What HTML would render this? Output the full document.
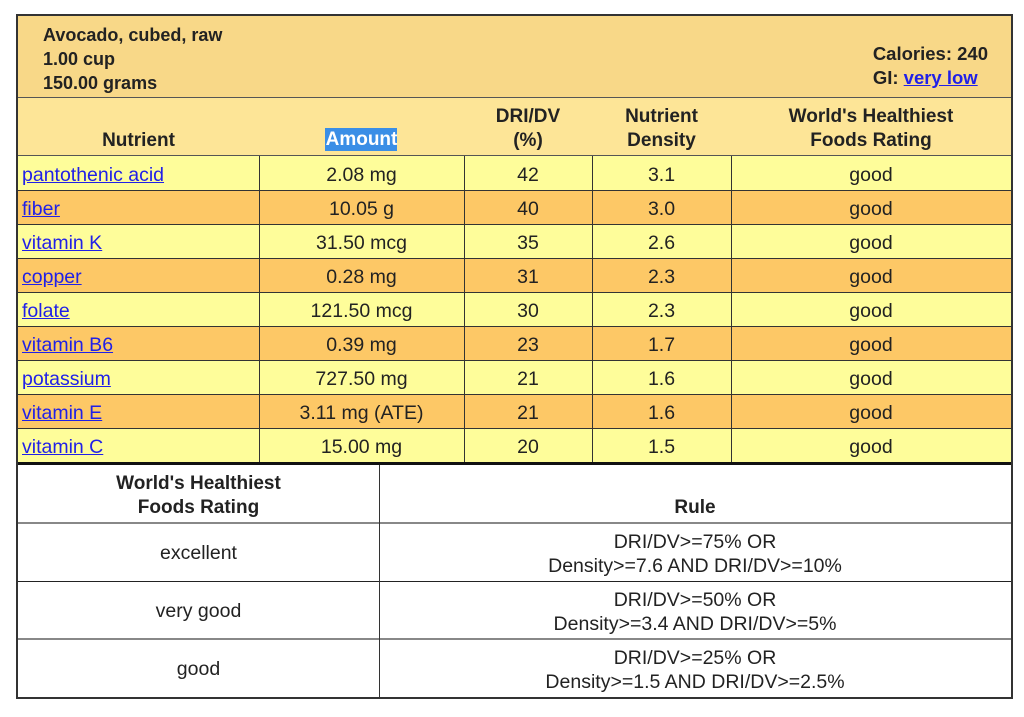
<!DOCTYPE html>
<html>
<head>
<meta charset="utf-8">
<style>
html,body{margin:0;padding:0;background:#fff;}
body{width:1024px;height:717px;position:relative;overflow:hidden;font-family:"Liberation Sans",Arial,sans-serif;color:#222;font-size:19.5px;}
.a{position:absolute;}
.box{left:16px;top:14px;width:997px;height:685px;border:2px solid #333;box-sizing:border-box;}
.hl{position:absolute;height:1px;background:#333;}
.vl{position:absolute;width:1px;background:#333;}
.t{position:absolute;line-height:24px;white-space:nowrap;}
.c{text-align:center;}
.b{font-weight:bold;font-size:19px;}
a{color:#2020e8;text-decoration:underline;}
</style>
</head>
<body>
<!-- backgrounds -->
<div class="a" style="left:18px;top:16px;width:993px;height:82px;background:#f8d888;"></div>
<div class="a" style="left:18px;top:98px;width:993px;height:58px;background:#fde597;"></div>
<div class="a" style="left:18px;top:156px;width:993px;height:34px;background:#fefd9a;"></div>
<div class="a" style="left:18px;top:190px;width:993px;height:34px;background:#fdc866;"></div>
<div class="a" style="left:18px;top:224px;width:993px;height:34px;background:#fefd9a;"></div>
<div class="a" style="left:18px;top:258px;width:993px;height:34px;background:#fdc866;"></div>
<div class="a" style="left:18px;top:292px;width:993px;height:34px;background:#fefd9a;"></div>
<div class="a" style="left:18px;top:326px;width:993px;height:34px;background:#fdc866;"></div>
<div class="a" style="left:18px;top:360px;width:993px;height:34px;background:#fefd9a;"></div>
<div class="a" style="left:18px;top:394px;width:993px;height:34px;background:#fdc866;"></div>
<div class="a" style="left:18px;top:428px;width:993px;height:34px;background:#fefd9a;"></div>

<div class="a box"></div>

<!-- horizontal lines top table -->
<div class="hl" style="left:18px;top:97px;width:993px;background:#555;"></div>
<div class="hl" style="left:18px;top:155px;width:993px;background:#555;"></div>
<div class="hl" style="left:18px;top:190px;width:993px;"></div>
<div class="hl" style="left:18px;top:224px;width:993px;"></div>
<div class="hl" style="left:18px;top:258px;width:993px;"></div>
<div class="hl" style="left:18px;top:292px;width:993px;"></div>
<div class="hl" style="left:18px;top:326px;width:993px;"></div>
<div class="hl" style="left:18px;top:360px;width:993px;"></div>
<div class="hl" style="left:18px;top:394px;width:993px;"></div>
<div class="hl" style="left:18px;top:428px;width:993px;"></div>
<div class="hl" style="left:18px;top:462px;width:993px;height:3px;background:#111;"></div>
<!-- vertical lines top table -->
<div class="vl" style="left:259px;top:156px;height:306px;"></div>
<div class="vl" style="left:464px;top:156px;height:306px;"></div>
<div class="vl" style="left:592px;top:156px;height:306px;"></div>
<div class="vl" style="left:731px;top:156px;height:306px;"></div>

<!-- second table lines -->
<div class="hl" style="left:18px;top:522px;width:993px;height:2px;background:#888;"></div>
<div class="hl" style="left:18px;top:581px;width:993px;background:#222;"></div>
<div class="hl" style="left:18px;top:638px;width:993px;height:2px;background:#888;"></div>
<div class="vl" style="left:379px;top:465px;height:232px;"></div>

<!-- header band -->
<div class="t b" style="left:43px;top:23px;font-size:18px;">Avocado, cubed, raw<br>1.00 cup<br>150.00 grams</div>
<div class="t b" style="right:36px;top:42px;font-size:18.5px;text-align:left;">Calories: 240<br>GI: <a href="#">very low</a></div>

<!-- column header -->
<div class="t b c" style="left:18px;width:241px;top:129px;">Nutrient</div>
<div class="a" style="left:325px;top:128px;width:72px;height:23px;background:#3a8ee6;"></div>
<div class="t b c" style="left:259px;width:205px;top:128px;color:#fff;">Amount</div>
<div class="t b c" style="left:464px;width:128px;top:105px;">DRI/DV<br>(%)</div>
<div class="t b c" style="left:592px;width:139px;top:105px;">Nutrient<br>Density</div>
<div class="t b c" style="left:731px;width:280px;top:105px;">World's Healthiest<br>Foods Rating</div>

<!-- rows -->
<div class="t" style="left:22px;line-height:34px;top:158px;">
<a href="#">pantothenic acid</a><br><a href="#">fiber</a><br><a href="#">vitamin K</a><br><a href="#">copper</a><br><a href="#">folate</a><br><a href="#">vitamin B6</a><br><a href="#">potassium</a><br><a href="#">vitamin E</a><br><a href="#">vitamin C</a>
</div>
<div class="t c" style="left:259px;width:205px;top:158px;line-height:34px;">2.08 mg<br>10.05 g<br>31.50 mcg<br>0.28 mg<br>121.50 mcg<br>0.39 mg<br>727.50 mg<br>3.11 mg (ATE)<br>15.00 mg</div>
<div class="t c" style="left:464px;width:128px;top:158px;line-height:34px;">42<br>40<br>35<br>31<br>30<br>23<br>21<br>21<br>20</div>
<div class="t c" style="left:592px;width:139px;top:158px;line-height:34px;">3.1<br>3.0<br>2.6<br>2.3<br>2.3<br>1.7<br>1.6<br>1.6<br>1.5</div>
<div class="t c" style="left:731px;width:280px;top:158px;line-height:34px;">good<br>good<br>good<br>good<br>good<br>good<br>good<br>good<br>good</div>

<!-- second table -->
<div class="t b c" style="left:18px;width:361px;top:472px;">World's Healthiest<br>Foods Rating</div>
<div class="t b c" style="left:379px;width:632px;top:496px;">Rule</div>

<div class="t c" style="left:18px;width:361px;top:541px;">excellent</div>
<div class="t c" style="left:379px;width:632px;top:530px;">DRI/DV&gt;=75% OR<br>Density&gt;=7.6 AND DRI/DV&gt;=10%</div>

<div class="t c" style="left:18px;width:361px;top:599px;">very good</div>
<div class="t c" style="left:379px;width:632px;top:588px;">DRI/DV&gt;=50% OR<br>Density&gt;=3.4 AND DRI/DV&gt;=5%</div>

<div class="t c" style="left:18px;width:361px;top:657px;">good</div>
<div class="t c" style="left:379px;width:632px;top:646px;">DRI/DV&gt;=25% OR<br>Density&gt;=1.5 AND DRI/DV&gt;=2.5%</div>
</body>
</html>
